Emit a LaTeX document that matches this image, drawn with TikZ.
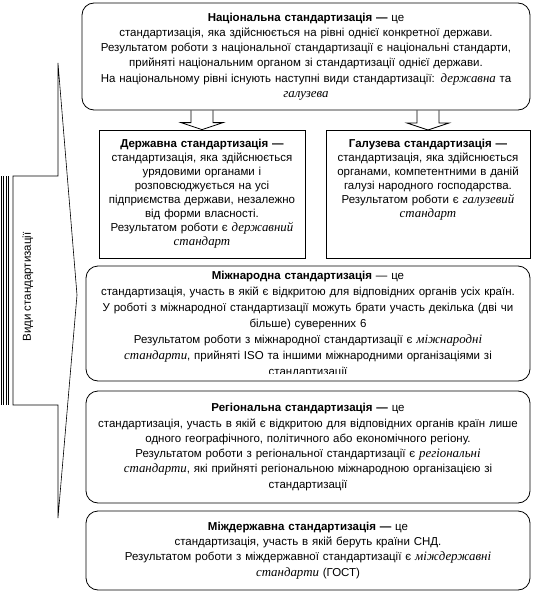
\documentclass[tikz,border=0pt]{standalone}
\usepackage{fontspec}
\setmainfont{Liberation Sans}
\newfontfamily\serifit[Scale=1.12]{Liberation Serif}
\usetikzlibrary{calc}

\newcommand{\vyd}[1]{{\serifit\itshape #1}}
\newcommand{\strilka}[2]{%
  \draw ($(#1)+(-11,0)$) -- ($(#2)+(-11,-7)$) -- ($(#2)+(-21,-7)$) -- (#2)
    -- ($(#2)+(21,-7)$) -- ($(#2)+(11,-7)$) -- ($(#1)+(11,0)$);}

\begin{document}
\begin{tikzpicture}[x=1pt, y=-1pt, line width=0.8pt,
  every node/.style={align=center, font=\fontsize{11.5}{15.3}\selectfont},
  okrugl/.style={draw, rounded corners=12pt, inner xsep=2pt, inner ysep=4pt},
  priamyi/.style={draw, inner xsep=2pt, inner ysep=4pt,
    font=\fontsize{11.5}{14}\selectfont}]
  \useasboundingbox (0,0) rectangle (537,594);

  % zliva: vydy
  \draw[line width=0.6pt] (58,63) -- (58,176) -- (13,176) -- (13,405)
    -- (58,405) -- (58,518) -- (77,295) -- cycle;
  \foreach \x in {1,3.4,5.8,8.2}
    \draw[line width=0.5pt] (\x,176) -- (\x,405);
  \node[rotate=90, font=\fontsize{11.5}{13}\selectfont] (vydy) at (28,287) {Види стандартизації};

  \node[okrugl, text width=444pt, minimum height=107pt] (nats) at (306,56.5)
    {\textbf{Національна стандартизація —} це\\
     стандартизація, яка здійснюється на рівні однієї конкретної держави.\\
     Результатом роботи з національної стандартизації є національні стандарти,\\
     прийняті національним органом зі стандартизації однієї держави.\\
     На національному рівні існують наступні види стандартизації: \vyd{державна} та\\
     \vyd{галузева}};

  \node[priamyi, text width=202pt, minimum height=128pt] (derzh) at (202,194)
    {\textbf{Державна стандартизація —}\\
     стандартизація, яка здійснюється\\
     урядовими органами і\\
     розповсюджується на усі\\
     підприємства держави, незалежно\\
     від форми власності.\\
     Результатом роботи є \vyd{державний}\\
     \vyd{стандарт}};
  \node[priamyi, text width=200pt, text height=13.5pt, text depth=106.5pt,
    anchor=north] (haluz) at (428,130)
    {\textbf{Галузева стандартизація —}\\
     стандартизація, яка здійснюється\\
     органами, компетентними в даній\\
     галузі народного господарства.\\
     Результатом роботи є \vyd{галузевий}\\
     \vyd{стандарт}};

  \strilka{nats.south -| derzh.north}{derzh.north}
  \strilka{nats.south -| haluz.north}{haluz.north}

  \node[okrugl, minimum width=444pt, minimum height=115pt] (mizhn) at (308,323.5) {};
  \begin{scope}
    \clip (mizhn.north west) rectangle ($(mizhn.south east)+(0,-8)$);
    \node[anchor=base, text width=440pt, font=\fontsize{11.5}{16}\selectfont]
      (mizhntekst) at (308,279)
      {\textbf{Міжнародна стандартизація} — це\\
       стандартизація, участь в якій є відкритою для відповідних органів усіх країн.\\
       У роботі з міжнародної стандартизації можуть брати участь декілька (дві чи\\
       більше) суверенних 6\\
       Результатом роботи з міжнародної стандартизації є \vyd{міжнародні}\\
       \vyd{стандарти}, прийняті ISO та іншими міжнародними організаціями зі\\
       стандартизації};
  \end{scope}

  \node[okrugl, text width=440pt, minimum height=112pt] (rehion) at (308,447)
    {\textbf{Регіональна стандартизація —} це\\
     стандартизація, участь в якій є відкритою для відповідних органів країн лише\\
     одного географічного, політичного або економічного регіону.\\
     Результатом роботи з регіональної стандартизації є \vyd{регіональні}\\
     \vyd{стандарти}, які прийняті регіональною міжнародною організацією зі\\
     стандартизації};

  \node[okrugl, text width=440pt, minimum height=79pt] (mizhd) at (308,550.5)
    {\textbf{Міждержавна стандартизація —} це\\
     стандартизація, участь в якій беруть країни СНД.\\
     Результатом роботи з міждержавної стандартизації є \vyd{міждержавні}\\
     \vyd{стандарти} (ГОСТ)};
\end{tikzpicture}
\end{document}
